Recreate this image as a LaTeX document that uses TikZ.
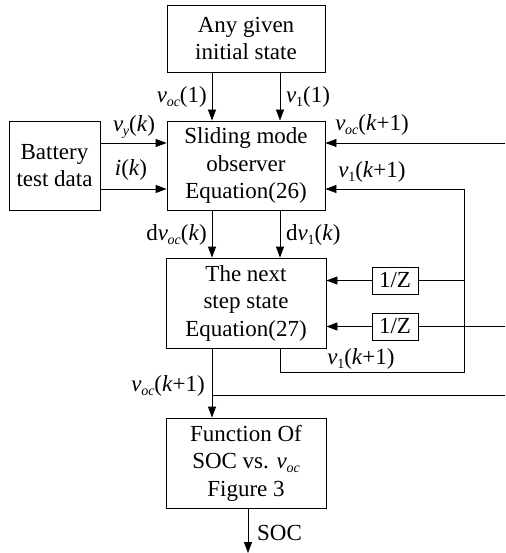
\documentclass[tikz,border=0pt]{standalone}
\usepackage{fontspec}
\setmainfont{Liberation Serif}
\usetikzlibrary{arrows.meta}
\newcommand\vs[1]{\textit{v}\kern-0.3pt\raisebox{-0.35ex}{\fontsize{14}{14}\selectfont #1}}
\begin{document}
\begin{tikzpicture}[x=1pt,y=-1pt,
 box/.style={draw, line width=0.8pt, inner sep=0pt, align=center, font=\fontsize{23}{27.5}\selectfont},
 lbl/.style={inner sep=0pt, font=\fontsize{23}{27.5}\selectfont},
 arr/.style={-{Triangle[length=11pt,width=8pt]}},
 ln/.style={line width=0.8pt}]
\useasboundingbox (0,0) rectangle (505,553);
\node[box, minimum width=158pt, minimum height=67pt] (top) at (246,38.5) {Any given\\initial state};
\node[box, minimum width=158pt, minimum height=89pt] (smo) at (246,165.5) {Sliding mode\\observer\\Equation(26)};
\node[box, minimum width=91pt, minimum height=89pt] (bat) at (54.5,165.5) {Battery\\test data};
\node[box, minimum width=160pt, minimum height=90pt] (nxt) at (246,303) {The next\\step state\\Equation(27)};
\node[box, minimum width=160pt, minimum height=90pt] (fun) at (246,463) {Function Of\\SOC vs. \vs{\textit{oc}}\\Figure 3};
\node[box, minimum width=46pt, minimum height=27pt] (z1) at (395,280.5) {1/Z};
\node[box, minimum width=46pt, minimum height=27pt] (z2) at (395,326.5) {1/Z};
\coordinate (xa) at (212,0);
\coordinate (xb) at (280,0);
\coordinate (xr) at (464,0);
\coordinate (xe) at (505,0);
\coordinate (ys) at (0,553);
\coordinate (yA) at (0,143);
\coordinate (yB) at (0,189);
\coordinate (yC) at (0,372);
\coordinate (yD) at (0,395);
\coordinate (eA) at (505,143);
\draw[ln,arr] (top.south -| xa) -- (smo.north -| xa);
\draw[ln,arr] (top.south -| xb) -- (smo.north -| xb);
\draw[ln,arr] (bat.east |- yA) -- (smo.west |- yA);
\draw[ln,arr] (bat.east |- yB) -- (smo.west |- yB);
\draw[ln,arr] (eA) -- (smo.east |- eA);
\draw[ln,arr] (nxt.south -| xb) -- (xb |- yC) -- (xr |- yC) -- (xr |- yB) -- (smo.east |- yB);
\draw[ln] (z1.east) -- (z1.east -| xr);
\draw[ln,arr] (z1.west) -- (nxt.east |- z1.west);
\draw[ln,arr] (z2.west) -- (nxt.east |- z2.west);
\draw[ln] (z2.east) -- (z2.east -| xe);
\draw[ln,arr] (smo.south -| xa) -- (nxt.north -| xa);
\draw[ln,arr] (smo.south -| xb) -- (nxt.north -| xb);
\draw[ln,arr] (nxt.south -| xa) -- (fun.north -| xa);
\draw[ln] (xa |- yD) -- (xe |- yD);
\draw[ln,arr] ([xshift=2pt]fun.south) -- ([xshift=2pt]fun.south |- ys);
\node[lbl, anchor=east] (l1) at (207,97) {\vs{\textit{oc}}(1)};
\node[lbl, anchor=west] (l2) at (286,97) {\vs{1}(1)};
\node[lbl] (l3) at (134,127) {\vs{\textit{y}}(\textit{k})};
\node[lbl] (l4) at (131,170) {\textit{i}(\textit{k})};
\node[lbl] (l5) at (372,125) {\vs{\textit{oc}}(\textit{k}+1)};
\node[lbl] (l6) at (372,172) {\vs{1}(\textit{k}+1)};
\node[lbl, anchor=east] (l7) at (207,235) {d\vs{\textit{oc}}(\textit{k})};
\node[lbl, anchor=west] (l8) at (286,235) {d\vs{1}(\textit{k})};
\node[lbl] (l9) at (361,359) {\vs{1}(\textit{k}+1)};
\node[lbl, anchor=east] (l10) at (205,386) {\vs{\textit{oc}}(\textit{k}+1)};
\node[lbl, anchor=west] (l11) at (257,533) {SOC};
\end{tikzpicture}
\end{document}
